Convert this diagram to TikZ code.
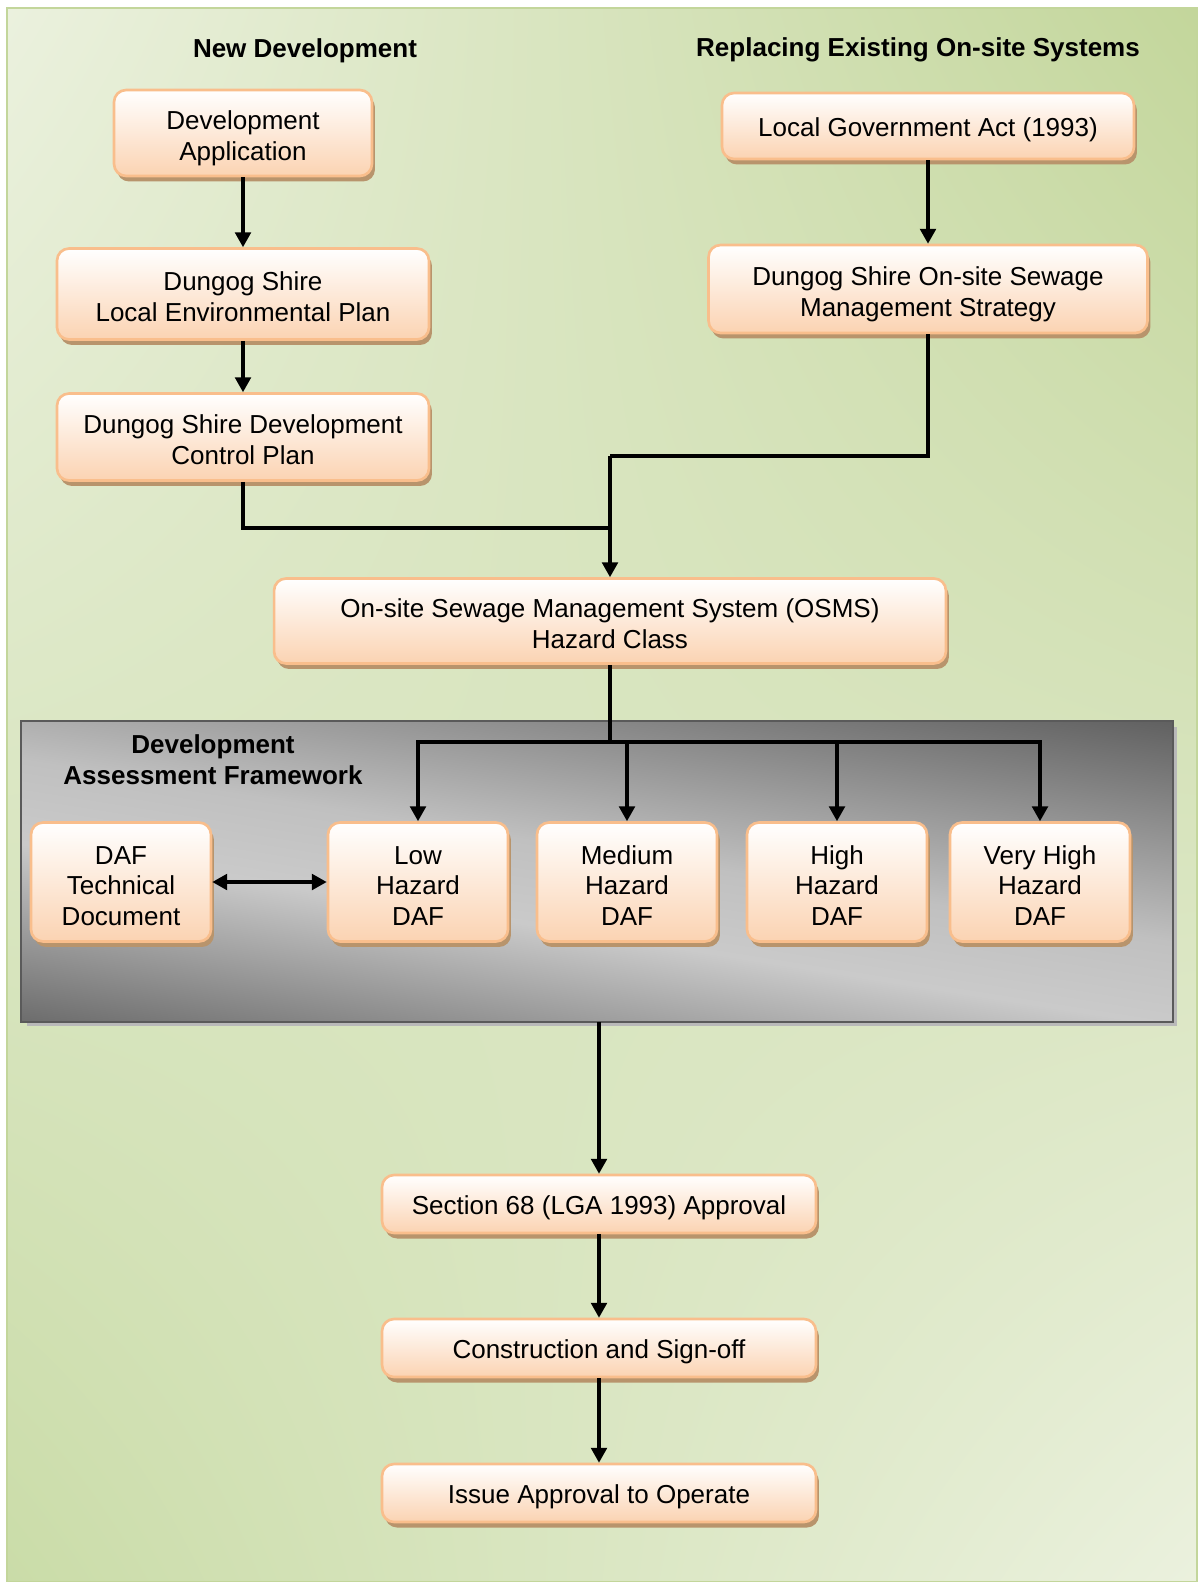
\documentclass[tikz,border=0pt]{standalone}
\usepackage{fontspec}
\setmainfont{Liberation Sans}
\usetikzlibrary{arrows.meta,shadows,shadings}

\definecolor{peachline}{HTML}{F9BE8C}
\definecolor{peachfill}{HTML}{FBD3B2}
\definecolor{peachshadow}{HTML}{B8946C}
\definecolor{olivelight}{HTML}{EBF1DE}
\definecolor{olivedark}{HTML}{C3D69B}
\definecolor{olivemid}{HTML}{CADCA8}
\definecolor{panelline}{HTML}{5A5A5A}
\definecolor{greyDarkA}{HTML}{666666}
\definecolor{greyLight}{HTML}{CACACA}
\definecolor{greyLightB}{HTML}{C0C0C0}
\definecolor{greyDarkB}{HTML}{5C5C5C}

\pgfdeclareverticalshading{dafgrey}{100bp}{color(0bp)=(greyDarkA); color(26bp)=(greyDarkA);
	color(44bp)=(greyLight); color(52bp)=(greyLightB); color(74bp)=(greyDarkB); color(100bp)=(greyDarkB)}

\begin{document}
\begin{tikzpicture}[x=0.02cm,y=-0.02cm,
	txt/.style={align=center, inner sep=0pt, font=\fontsize{14.8pt}{17.4pt}\selectfont,
		text height=15.5pt, text depth=3.5pt},
	twolines/.style={text height=34.6pt},
	threelines/.style={text height=52.6pt},
	box/.style={txt, draw=peachline, line width=1.5pt, rounded corners=0.24cm,
		top color=white, bottom color=peachfill,
		drop shadow={shadow xshift=0.06cm, shadow yshift=-0.11cm, fill=peachshadow, opacity=1}},
	dafbox/.style={box, threelines, minimum width=3.6cm, minimum height=2.38cm},
	stepbox/.style={box, minimum width=8.68cm, minimum height=1.16cm},
	head/.style={txt, font=\fontsize{14.8pt}{17.4pt}\selectfont\bfseries},
	panel/.style={draw=panelline, line width=1.2pt,
		drop shadow={shadow xshift=0.1cm, shadow yshift=-0.1cm, fill=gray!55, opacity=1},
		minimum width=23cm, minimum height=5.98cm, inner sep=0pt},
	link/.style={draw, line width=1.8pt},
	arr/.style={link, -{Triangle[width=9pt,length=8.5pt]}}]

\useasboundingbox (0,0) rectangle (1197,1582);
\shade[shading=bilinear interpolation, upper left=olivelight, upper right=olivedark,
	lower left=olivemid, lower right=olivelight] (7,8) rectangle (1197,1582);
\draw[olivedark, line width=1pt] (7,8) rectangle (1197,1582);

% headings
\node[head] (hnew) at (305,47) {New Development};
\node[head] (hrepl) at (918,46) {Replacing Existing On-site Systems};

% left column
\node[box, twolines, minimum width=5.16cm, minimum height=1.72cm] (devapp) at (243,133) {Development\\Application};
\node[box, twolines, minimum width=7.44cm, minimum height=1.82cm] (lep) at (243,294) {Dungog Shire\\Local Environmental Plan};
\node[box, twolines, minimum width=7.44cm, minimum height=1.74cm] (dcp) at (243,437) {Dungog Shire Development\\Control Plan};

% right column
\node[box, minimum width=8.24cm, minimum height=1.32cm] (lga) at (928,126) {Local Government Act (1993)};
\node[box, twolines, minimum width=8.78cm, minimum height=1.76cm] (strat) at (928,289) {Dungog Shire On-site Sewage\\Management Strategy};

\node[box, twolines, minimum width=13.44cm, minimum height=1.7cm] (osms) at (610,621) {On-site Sewage Management System (OSMS)\\Hazard Class};

% assessment framework, grey band shading tilted a little
\node[panel] (frame) at (597,871.5) {};
\begin{scope}
	\clip (frame.north west) rectangle (frame.south east);
	\begin{scope}[transform canvas={rotate around={-9:(597,872)}}]
		\shade[shading=dafgrey] (-23,612) rectangle (1217,1132);
	\end{scope}
\end{scope}
\draw[panelline, line width=1.2pt] (frame.north west) rectangle (frame.south east);

\node[head, twolines] (hdaf) at (213,757) {Development\\Assessment Framework};
\node[dafbox] (daftech) at (121,882) {DAF\\Technical\\Document};
\node[dafbox] (low) at (418,882) {Low\\Hazard\\DAF};
\node[dafbox] (med) at (627,882) {Medium\\Hazard\\DAF};
\node[dafbox] (high) at (837,882) {High\\Hazard\\DAF};
\node[dafbox] (vhigh) at (1040,882) {Very High\\Hazard\\DAF};

\node[stepbox] (s68) at (599,1204) {Section 68 (LGA 1993) Approval};
\node[stepbox] (cons) at (599,1348) {Construction and Sign-off};
\node[stepbox] (issue) at (599,1493) {Issue Approval to Operate};

% connectors
\coordinate (jstrat) at (610,456);
\coordinate (jdcp) at (610,528);
\coordinate (hub) at (610,742);

\draw[arr] (devapp) -- (lep);
\draw[arr] (lep) -- (dcp);
\draw[arr] (lga) -- (strat);
\draw[link] (strat.south) |- (jstrat);
\draw[arr] (jstrat) -- (osms.north);
\draw[link] (dcp.south) |- (jdcp);
\draw[link] (osms.south) -- (hub);
\foreach \n in {low,med,high,vhigh}
	\draw[arr] (hub) -| (\n.north);
\draw[link, {Triangle[width=9pt,length=8.5pt]}-{Triangle[width=9pt,length=8.5pt]}] (daftech) -- (low);
\draw[arr] (frame.south -| s68.north) -- (s68.north);
\draw[arr] (s68) -- (cons);
\draw[arr] (cons) -- (issue);
\end{tikzpicture}
\end{document}
